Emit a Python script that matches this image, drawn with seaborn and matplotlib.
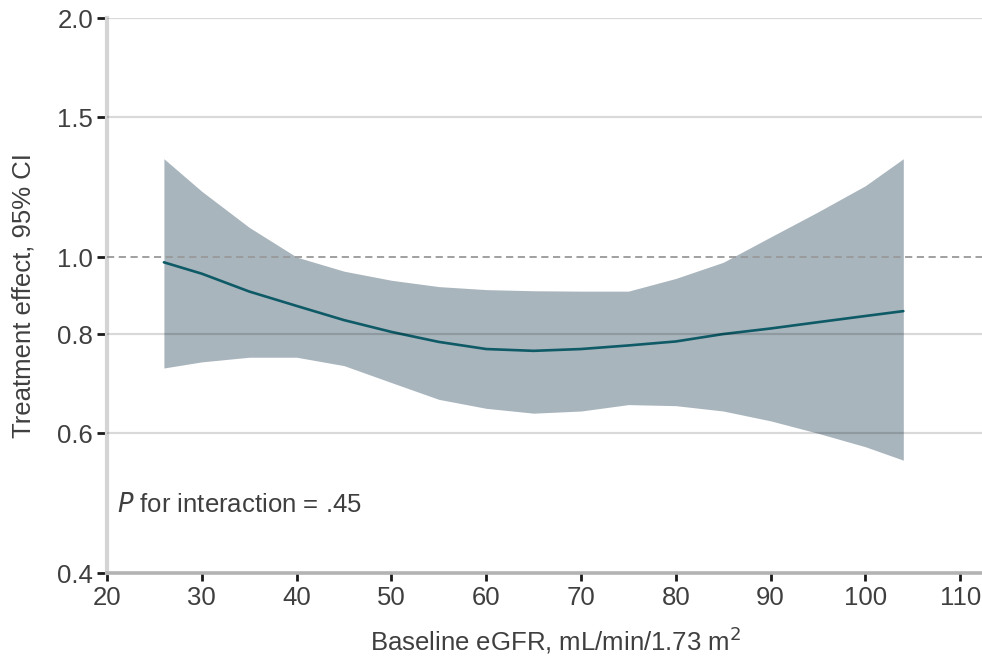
import numpy as np
import pandas as pd
import matplotlib
matplotlib.use("Agg")
import matplotlib.pyplot as plt
import seaborn as sns
from matplotlib.ticker import FixedLocator, FixedFormatter, NullLocator

# baseline eGFR grid
egfr = [26, 30, 35, 40, 45, 50, 55, 60, 65, 70, 75, 80, 85, 90, 95, 100, 104]
effect = [0.985, 0.953, 0.905, 0.868, 0.833, 0.805, 0.782, 0.766, 0.762, 0.766,
          0.774, 0.783, 0.80, 0.813, 0.828, 0.843, 0.855]
ci_upper = [1.33, 1.21, 1.09, 1.0, 0.96, 0.935, 0.918, 0.91, 0.907, 0.906,
            0.906, 0.94, 0.985, 1.06, 1.14, 1.23, 1.33]
ci_lower = [0.725, 0.738, 0.748, 0.748, 0.73, 0.695, 0.662, 0.645, 0.636, 0.64,
            0.652, 0.65, 0.64, 0.622, 0.60, 0.577, 0.555]

y_ticks = [0.4, 0.6, 0.8, 1.0, 1.5, 2.0]
y_ticklabels = ["0.4", "0.6", "0.8", "1.0", "1.5", "2.0"]
x_ticks = [20, 30, 40, 50, 60, 70, 80, 90, 100, 110]

df = pd.DataFrame({"egfr": egfr, "effect": effect,
                   "lower": ci_lower, "upper": ci_upper})

sns.set_style("white")
plt.rcParams["font.family"] = ["Liberation Sans", "DejaVu Sans"]
text_color = "#3f3f3f"
fs = 18.5

fig = plt.figure(figsize=(9.82, 6.58), dpi=100)
ax = fig.add_axes([0.109, 0.129, 0.891, 0.8436])

ax.fill_between(df["egfr"], df["lower"], df["upper"], color="#a9b5bd",
                linewidth=0, zorder=1)
sns.lineplot(data=df, x="egfr", y="effect", ax=ax, color="#0e5a66",
             linewidth=1.9, zorder=2)

ax.set_yscale("log")
ax.set_ylim(0.4, 2.0)
ax.set_xlim(20, 112.3)

# gridlines sit on top of the band, slightly see-through
for v in [0.6, 0.8, 1.5, 2.0]:
    ax.axhline(v, color="black", alpha=0.15, linewidth=1.6, zorder=3)
ax.axhline(1.0, color="#999999", linewidth=1.3, linestyle=(0, (4, 2.5)), zorder=3)

ax.yaxis.set_major_locator(FixedLocator(y_ticks))
ax.yaxis.set_major_formatter(FixedFormatter(y_ticklabels))
ax.yaxis.set_minor_locator(NullLocator())
ax.set_xticks(x_ticks)

ax.tick_params(axis="both", which="major", direction="out", bottom=True,
               left=True, width=2, color="#1a1a1a", labelsize=fs,
               labelcolor=text_color)
ax.tick_params(axis="y", length=7, pad=3)
ax.tick_params(axis="x", length=6, pad=3)

for side in ["top", "right"]:
    ax.spines[side].set_visible(False)
ax.spines["left"].set_color("#d4d4d4")
ax.spines["left"].set_linewidth(3)
ax.spines["bottom"].set_color("#b3b3b3")
ax.spines["bottom"].set_linewidth(2.6)

ax.set_xlabel("Baseline eGFR, mL/min/1.73 m$^2$", fontsize=fs, color=text_color)
ax.xaxis.set_label_coords(0.513, -0.093)
ax.set_ylabel("Treatment effect, 95% CI", fontsize=fs, color=text_color,
              labelpad=16)

ax.text(21.1, 0.487, "$\\it{P}$ for interaction = .45", fontsize=fs,
        color=text_color, va="center", ha="left")

fig.savefig("out.png", dpi=100)
